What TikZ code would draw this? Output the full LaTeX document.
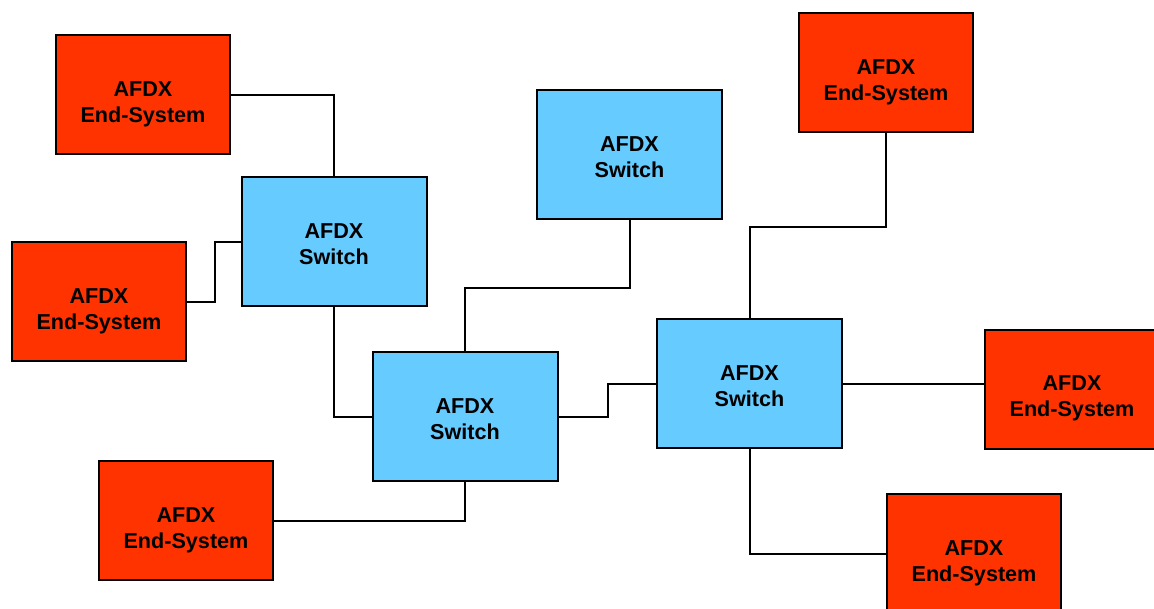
\documentclass[tikz,border=0pt]{standalone}
\usepackage{fontspec}
\setmainfont{Liberation Sans}
\definecolor{esred}{HTML}{FF3300}
\definecolor{swblue}{HTML}{66CCFF}
\begin{document}
\begin{tikzpicture}[x=1pt,y=-1pt,
  boxbase/.style={draw=black,line width=2pt,rectangle,inner sep=0pt,
    minimum width=174pt,minimum height=119pt},
  endsys/.style={boxbase,fill=esred,
    label={[align=center,yshift=-9.5pt,font=\fontsize{21.6}{26}\selectfont\bfseries]center:AFDX\\End-System}},
  switchbox/.style={boxbase,fill=swblue,minimum width=185pt,minimum height=129pt,
    label={[align=center,yshift=-2.5pt,font=\fontsize{21.6}{26}\selectfont\bfseries]center:AFDX\\Switch}},
  link/.style={draw=black,line width=2pt}]
\useasboundingbox (0,0) rectangle (1154,608);
\clip (0,0) rectangle (1154,608);
% switches
\node[switchbox] (sw1) at (334,241.5) {};
\node[switchbox] (sw2) at (629.5,154.5) {};
\node[switchbox] (sw3) at (465,416.5) {};
\node[switchbox] (sw4) at (749.5,383.5) {};
% end systems
\node[endsys] (es1) at (143,94.5) {};
\node[endsys] (es2) at (99,301.5) {};
\node[endsys] (es3) at (886,72.5) {};
\node[endsys] (es4) at (1072,389) {};
\node[endsys] (es5) at (186,520.5) {};
\node[endsys] (es6) at (974,553.5) {};
% links
\draw[link] (es1.east) -| (sw1.north);
\draw[link] (es2.east) -- ++(28,0) |- (sw1.west);
\draw[link] (sw1.south) |- (sw3.west);
\draw[link] (sw2.south) -- ++(0,68) -| (sw3.north);
\draw[link] (sw3.east) -- ++(49,0) |- (sw4.west);
\draw[link] (es3.south) -- ++(0,94) -| (sw4.north);
\draw[link] (sw4.east) -- (sw4.east -| es4.west);
\draw[link] (sw4.south) |- (es6.west);
\draw[link] (es5.east) -| (sw3.south);
\end{tikzpicture}
\end{document}
